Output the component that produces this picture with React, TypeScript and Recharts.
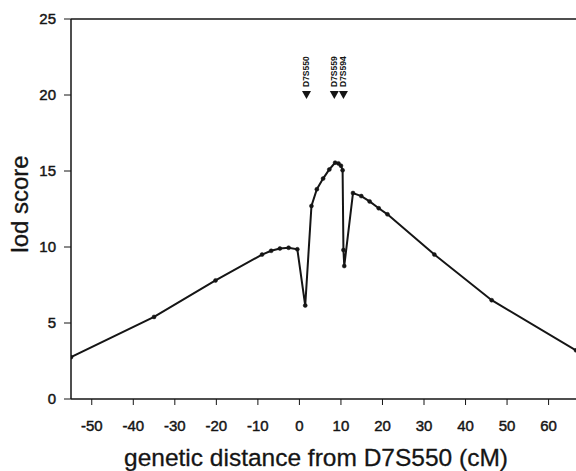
import { ComposedChart, Line, Scatter, XAxis, YAxis, ReferenceLine, Label } from "recharts";

// lod score curve
const distance = [-55, -35, -20.2, -9, -6.8, -4.7, -2.6, -0.5, 1.4, 2.9, 4.2, 5.7, 7.2, 8.6, 9.4, 10.0, 10.4, 10.6, 10.8, 12.9, 14.9, 16.9, 19.1, 21.2, 32.5, 46.3, 66.6];
const lod = [2.75, 5.4, 7.8, 9.5, 9.75, 9.9, 9.95, 9.85, 6.15, 12.7, 13.8, 14.5, 15.1, 15.55, 15.5, 15.35, 15.05, 9.8, 8.75, 13.55, 13.35, 13.0, 12.55, 12.15, 9.5, 6.5, 3.2];

// marker loci drawn as triangles near the top
const markerNames = ["D7S550", "D7S559", "D7S594"];
const markerPos = [1.7, 8.4, 10.6];
const markerLod = 20;

const xTicks = [-50, -40, -30, -20, -10, 0, 10, 20, 30, 40, 50, 60];
const yTicks = [0, 5, 10, 15, 20, 25];

const curve = distance.map((x, i) => ({ x, lod: lod[i] }));
const markers = markerNames.map((name, i) => ({ x: markerPos[i], y: markerLod, name }));

const FONT = "'Liberation Sans', Arial, sans-serif";
const INK = "#151515";

const tickStyle = { fill: INK, fontSize: 15, fontFamily: FONT, stroke: INK, strokeWidth: 0.45 };

function MarkerShape(props: any) {
  const { cx, cy, payload } = props;
  return (
    <g>
      <polygon points={`${cx - 4.5},${cy - 4} ${cx + 4.5},${cy - 4} ${cx},${cy + 4}`} fill={INK} />
      <text
        x={cx + 3}
        y={cy - 8}
        transform={`rotate(-90 ${cx + 3} ${cy - 8})`}
        fontSize={8.5}
        fontWeight="bold"
        fontFamily={FONT}
        fill={INK}
      >
        {payload.name}
      </text>
    </g>
  );
}

export default function App() {
  return (
    <div style={{ position: "fixed", left: 0, top: 0, background: "#fff" }}>
      <ComposedChart width={576} height={471} margin={{ top: 19, right: 0, bottom: 0, left: 0 }}>
        <XAxis
          dataKey="x"
          type="number"
          domain={[-55, 66.6]}
          ticks={xTicks}
          allowDataOverflow
          height={72}
          tickSize={6}
          tickMargin={15}
          stroke={INK}
          axisLine={{ stroke: INK, strokeWidth: 1.5 }}
          tick={tickStyle}
        >
          <Label
            content={() => (
              <text x={316} y={466} textAnchor="middle" fontSize={24.5} fontFamily={FONT} fill={INK} stroke={INK} strokeWidth={0.3}>
                genetic distance from D7S550 (cM)
              </text>
            )}
          />
        </XAxis>
        <YAxis
          type="number"
          domain={[0, 25]}
          ticks={yTicks}
          width={71}
          tickSize={7}
          tickMargin={8}
          stroke={INK}
          axisLine={{ stroke: INK, strokeWidth: 1.5 }}
          tick={tickStyle}
        >
          <Label
            content={() => (
              <text
                x={28}
                y={204}
                transform="rotate(-90 28 204)"
                textAnchor="middle"
                fontSize={24}
                fontFamily={FONT}
                fill={INK}
                stroke={INK}
                strokeWidth={0.3}
              >
                lod score
              </text>
            )}
          />
        </YAxis>
        <ReferenceLine y={25} stroke={INK} strokeWidth={1.3} />
        <Line
          data={curve}
          dataKey="lod"
          type="linear"
          stroke={INK}
          strokeWidth={2}
          dot={{ r: 2, fill: INK, stroke: INK, strokeWidth: 0.5 }}
          isAnimationActive={false}
        />
        <Scatter data={markers} dataKey="y" shape={<MarkerShape />} isAnimationActive={false} />
      </ComposedChart>
    </div>
  );
}
